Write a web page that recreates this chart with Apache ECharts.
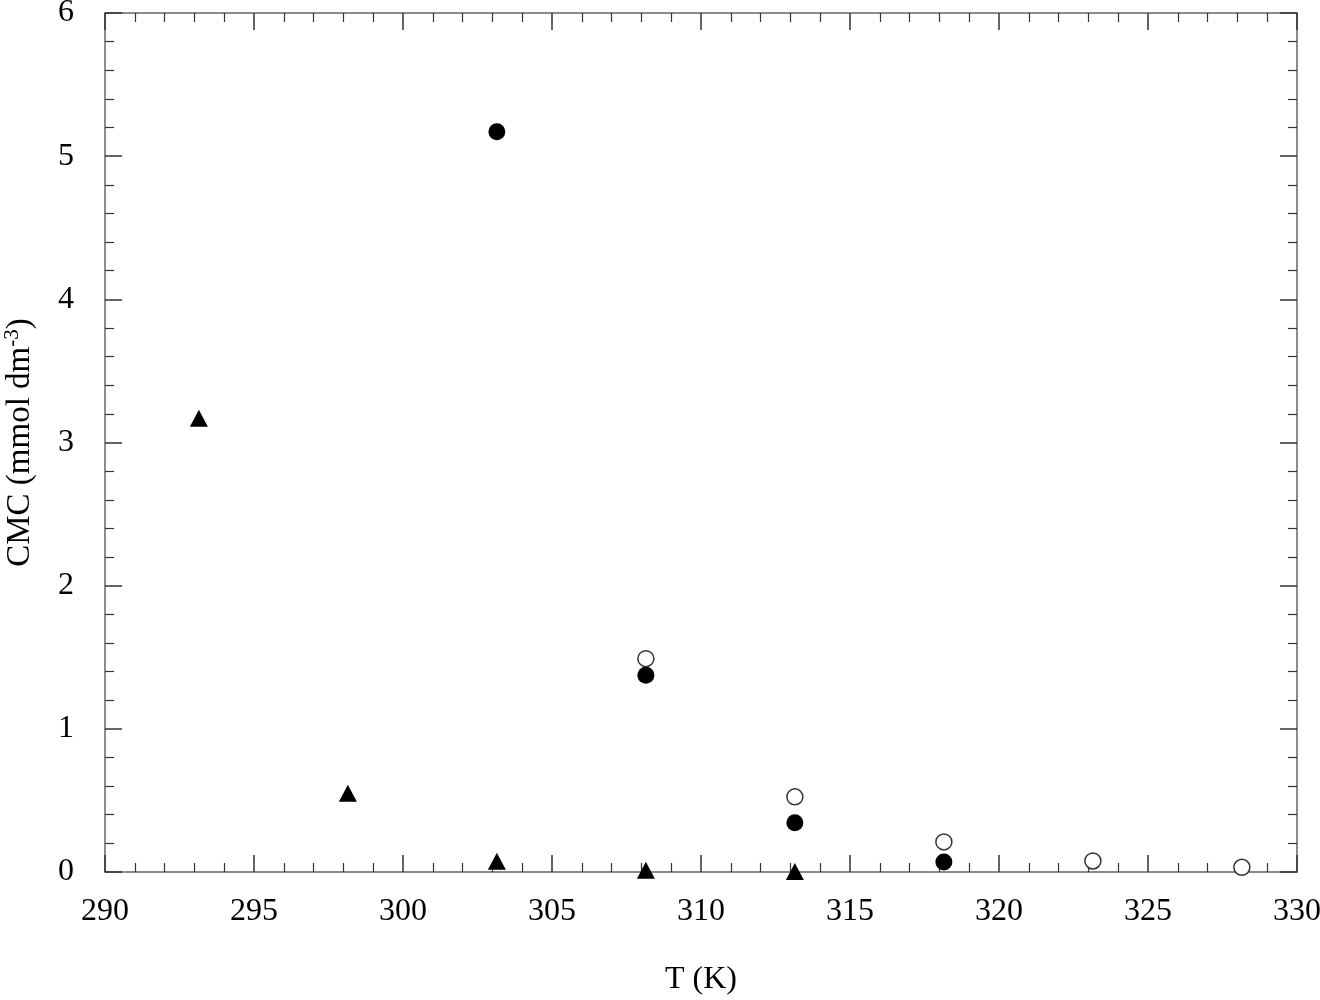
<!DOCTYPE html>
<html>
<head>
<meta charset="utf-8">
<script src="https://cdn.jsdelivr.net/npm/echarts@6/dist/echarts.min.js"></script>
<style>
  html, body { margin: 0; padding: 0; background: #fff; }
  #chart { width: 1320px; height: 1000px; }
</style>
</head>
<body>
<div id="chart"></div>
<script>
// triangles
const tempTri = [293.15, 298.15, 303.15, 308.15, 313.15];
const cmcTri = [3.17, 0.55, 0.075, 0.012, 0.003];
// filled circles
const tempFilled = [303.15, 308.15, 313.15, 318.15];
const cmcFilled = [5.17, 1.374, 0.344, 0.07];
// open circles
const tempOpen = [308.15, 313.15, 318.15, 323.15, 328.15];
const cmcOpen = [1.49, 0.525, 0.21, 0.077, 0.033];

const font = '"Liberation Serif", "Times New Roman", serif';
const lineColor = '#666';

function pairs(xs, ys) {
  return xs.map((x, i) => [x, ys[i]]);
}

function xAx(pos, labels) {
  return {
    type: 'value', position: pos, min: 290, max: 330, interval: 5,
    name: labels ? 'T (K)' : '', nameLocation: 'middle', nameGap: 92,
    nameTextStyle: { fontFamily: font, fontSize: 32, color: '#000' },
    axisLine: { show: true, onZero: false, lineStyle: { color: lineColor, width: 1.5 } },
    axisTick: { show: true, inside: true, length: 17, lineStyle: { color: '#333', width: 1.5 } },
    minorTick: { show: true, splitNumber: 5, length: 9, lineStyle: { color: '#333', width: 1.2 } },
    splitLine: { show: false },
    axisLabel: { show: labels, margin: 24, fontFamily: font, fontSize: 32, color: '#000' }
  };
}

function yAx(pos, labels) {
  return {
    type: 'value', position: pos, min: 0, max: 6, interval: 1,
    name: labels ? 'CMC (mmol dm{sup|-3})' : '', nameLocation: 'middle', nameGap: 67, nameRotate: 90,
    nameTextStyle: {
      fontFamily: font, fontSize: 33, color: '#000', lineHeight: 36,
      rich: { sup: { fontFamily: font, fontSize: 21, lineHeight: 20, verticalAlign: 'top', color: '#000' } }
    },
    axisLine: { show: true, onZero: false, lineStyle: { color: lineColor, width: 1.5 } },
    axisTick: { show: true, inside: true, length: 17, lineStyle: { color: '#333', width: 1.5 } },
    minorTick: { show: true, splitNumber: 5, length: 9, lineStyle: { color: '#333', width: 1.2 } },
    splitLine: { show: false },
    axisLabel: { show: labels, margin: 31, fontFamily: font, fontSize: 32, color: '#000' }
  };
}

const chart = echarts.init(document.getElementById('chart'));
chart.setOption({
  animation: false,
  backgroundColor: '#fff',
  grid: { left: 105, right: 23, top: 13, bottom: 128, outerBoundsMode: 'none', containLabel: false },
  xAxis: [xAx('bottom', true), xAx('top', false)],
  yAxis: [yAx('left', true), yAx('right', false)],
  series: [
    {
      type: 'scatter', clip: false, symbol: 'triangle', symbolSize: [18, 17],
      itemStyle: { color: '#000', opacity: 1 },
      data: pairs(tempTri, cmcTri)
    },
    {
      type: 'scatter', clip: false, symbol: 'circle', symbolSize: 17,
      itemStyle: { color: '#000', opacity: 1 },
      data: pairs(tempFilled, cmcFilled)
    },
    {
      type: 'scatter', clip: false, symbol: 'circle', symbolSize: 16,
      itemStyle: { color: '#fff', borderColor: '#333', borderWidth: 1.5, opacity: 1 },
      data: pairs(tempOpen, cmcOpen)
    }
  ]
});
window.addEventListener('resize', () => chart.resize());
</script>
</body>
</html>
